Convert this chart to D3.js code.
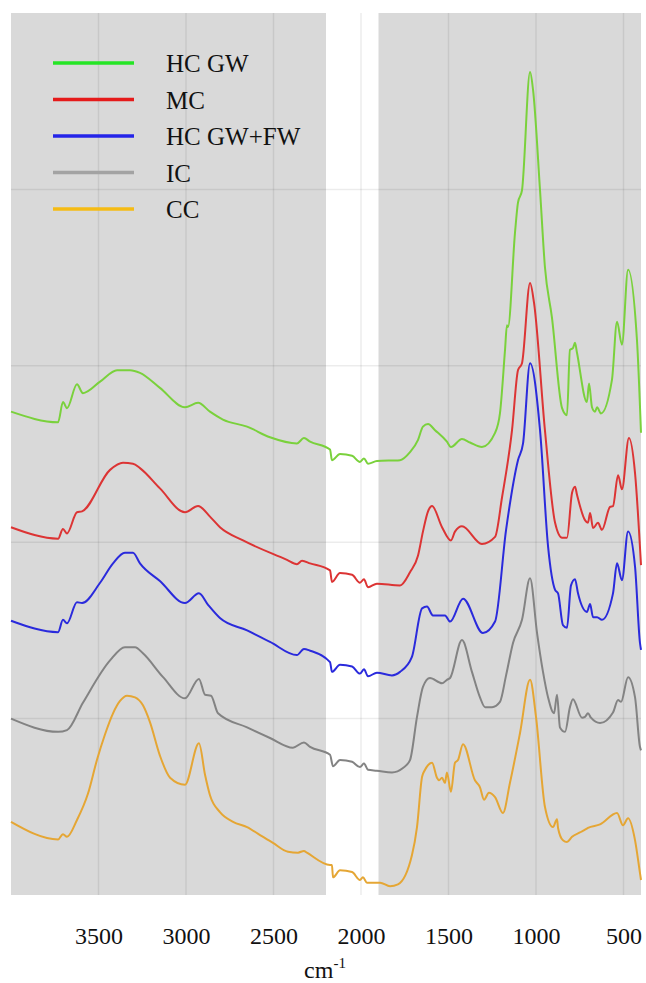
<!DOCTYPE html>
<html><head><meta charset="utf-8">
<script src="https://cdn.jsdelivr.net/npm/d3@7"></script>
<style>body{margin:0;background:#fff}svg{display:block}</style>
</head><body>
<script>
// ---- data (wavenumber cm-1, offset absorbance in arbitrary units) ----
const seriesNames = ["HC GW", "MC", "HC GW+FW", "IC", "CC"];
const lineColors = ["#7ad13c", "#dc3434", "#2a2adc", "#838383", "#e5a634"];
const legendColors = ["#25e525", "#e51a1a", "#2424e8", "#a3a3a3", "#f5bb14"];
const xTicks = [3500, 3000, 2500, 2000, 1500, 1000, 500];
const yGrid = [20, 40, 60, 80];
const gapBand = [2200, 1900];

const wnHCGW = [4000,3731,3703,3680,3623,3589,3491,3394,3320,3263,3149,3006,2931,2863,2789,2651,2520,2366,2326,2291,2177,2166,2120,2051,2006,1983,1960,1909,1777,1720,1674,1646,1617,1577,1509,1486,1423,1377,1309,1234,1206,1177,1166,1160,1120,1103,1080,1034,1017,977,949,909,851,823,806,789,777,766,709,697,680,663,651,629,566,537,509,474,423,400];
const valHCGW = [54.8,53.6,55.9,55.2,57.9,56.9,58.2,59.5,59.5,59.2,57.5,55.3,55.8,54.8,53.9,53.1,51.9,51.2,51.8,51.4,50.5,49.3,50.0,49.8,49.1,49.5,48.9,49.2,49.3,50.2,51.6,53.1,53.4,52.7,51.4,50.8,51.7,51.3,50.8,52.4,54.6,61.8,64.6,64.4,75.1,78.5,79.9,93.3,91.3,79.9,71.2,65.5,55.2,54.4,61.8,62.0,62.6,61.5,55.9,58.0,55.3,54.8,55.3,54.6,58.4,65.0,62.4,70.9,62.9,52.4];

const wnMC = [4000,3731,3703,3680,3623,3594,3434,3360,3303,3263,3149,3006,2931,2863,2806,2674,2423,2366,2337,2291,2177,2166,2120,2051,2006,1983,1960,1909,1777,1720,1674,1646,1617,1594,1537,1486,1463,1423,1309,1234,1194,1137,1103,1080,1034,1011,949,891,851,823,794,777,766,720,703,691,674,646,623,577,560,531,509,469,434,400];
const valMC = [41.7,40.4,41.5,41.0,43.4,43.5,48.2,49.0,48.9,48.4,46.1,43.4,44.1,42.9,41.7,40.2,38.0,37.5,37.9,37.6,36.8,35.5,36.5,36.3,35.4,35.8,34.9,35.3,35.1,36.6,38.5,41.2,43.5,44.1,41.7,40.2,41.2,41.8,39.8,40.6,45.1,52.7,59.5,60.3,69.4,67.1,52.7,42.2,40.5,40.5,45.6,46.3,45.4,42.5,42.2,43.3,41.6,42.2,41.4,44.0,44.1,47.6,46.0,51.8,47.8,37.4];

const wnHCGWFW = [4000,3731,3703,3680,3623,3594,3491,3417,3349,3303,3263,3149,3006,2926,2874,2806,2651,2520,2366,2326,2291,2177,2166,2120,2051,2006,1983,1960,1909,1823,1777,1709,1651,1623,1589,1520,1491,1417,1303,1234,1171,1103,1074,1034,977,931,891,874,846,823,800,777,760,709,691,674,651,623,560,537,509,474,434,406,400];
const valHCGWFW = [31.1,29.8,31.2,30.8,33.2,33.1,35.4,37.6,38.8,38.8,37.6,35.6,33.1,34.2,32.9,31.4,30.0,28.7,27.2,27.9,27.7,26.4,25.3,26.1,25.9,25.1,25.6,24.8,25.2,24.9,25.3,27.0,32.5,32.7,31.7,31.7,31.0,33.6,29.7,31.0,41.4,49.3,51.2,60.3,52.7,39.5,34.6,34.2,30.6,30.3,35.1,35.8,34.2,32.1,33.0,31.5,31.5,31.2,34.2,37.6,35.7,41.2,37.2,28.6,27.8];

const wnIC = [4000,3731,3680,3589,3434,3349,3291,3246,3131,3006,2926,2891,2857,2817,2651,2520,2389,2326,2291,2177,2160,2120,2051,2006,1983,1960,1909,1823,1760,1720,1680,1646,1606,1537,1509,1491,1423,1366,1320,1291,1251,1206,1171,1131,1080,1034,994,960,931,897,880,863,834,806,789,737,720,703,686,634,560,531,514,474,434,406,400];
const valIC = [20.0,18.5,18.7,21.8,26.6,28.1,28.1,27.4,24.7,22.3,24.5,22.7,22.6,20.6,19.0,17.8,16.7,17.3,16.8,15.9,14.6,15.3,15.1,14.5,14.9,14.2,14.1,13.9,14.4,15.3,20.2,23.6,24.6,24.0,24.4,24.6,28.9,25.3,22.4,21.3,21.3,21.9,24.9,28.6,31.2,35.9,29.7,25.3,22.4,20.6,22.7,19.0,18.5,21.3,22.2,20.1,20.2,20.6,20.1,19.5,20.7,22.1,21.9,24.7,22.4,16.8,16.4];

const wnCC = [4000,3731,3703,3680,3623,3560,3509,3463,3417,3377,3337,3291,3246,3206,3149,3091,3006,2926,2891,2863,2806,2731,2651,2577,2503,2417,2360,2326,2309,2177,2166,2160,2120,2051,2006,1989,1966,1891,1834,1789,1709,1680,1651,1634,1594,1566,1554,1537,1520,1509,1486,1463,1446,1417,1349,1320,1297,1269,1234,1189,1149,1091,1034,1000,949,903,880,874,846,823,794,749,720,703,634,537,503,474,434,406,400];
const valCC = [8.3,6.3,6.9,6.6,8.5,11.5,15.3,18.2,20.6,22.0,22.6,22.4,21.5,19.6,15.8,13.3,12.5,17.2,13.6,11.3,9.4,8.3,7.7,6.8,5.9,4.9,4.8,5.0,4.8,3.4,3.4,2.0,2.8,2.6,1.7,2.0,1.4,1.4,1.0,1.2,4.5,7.7,13.4,14.2,15.0,13.3,13.0,13.3,12.7,13.9,11.7,15.0,15.3,17.1,13.0,12.2,10.8,11.6,11.1,9.3,12.7,18.4,24.4,20.2,10.0,7.7,8.6,7.6,6.2,6.0,6.6,7.1,7.4,7.6,8.0,9.3,7.9,8.7,6.2,2.5,1.7];

const spectra = [
  {wn: wnHCGW, val: valHCGW},
  {wn: wnMC, val: valMC},
  {wn: wnHCGWFW, val: valHCGWFW},
  {wn: wnIC, val: valIC},
  {wn: wnCC, val: valCC}
];

// ---- drawing ----
const W = 646, H = 983;
const m = {left: 11, right: 5, top: 13, bottom: 88};
const pw = W - m.left - m.right, ph = H - m.top - m.bottom;

const svg = d3.select("body").append("svg").attr("width", W).attr("height", H);
const g = svg.append("g").attr("transform", `translate(${m.left},${m.top})`);

const x = d3.scaleLinear().domain([4000, 400]).range([0, pw]);
const y = d3.scaleLinear().domain([0, 100]).range([ph, 0]);

// gray panels on either side of the white gap
g.append("rect").attr("x", x(4000)).attr("y", 0)
  .attr("width", x(gapBand[0]) - x(4000)).attr("height", ph).attr("fill", "#d9d9d9");
g.append("rect").attr("x", x(gapBand[1])).attr("y", 0)
  .attr("width", x(400) - x(gapBand[1])).attr("height", ph).attr("fill", "#d9d9d9");

// gridlines
const grid = g.append("g").attr("stroke", "rgba(0,0,0,0.075)").attr("stroke-width", 1.5);
grid.selectAll("line.v").data(xTicks).join("line")
  .attr("x1", d => x(d)).attr("x2", d => x(d)).attr("y1", 0).attr("y2", ph);
grid.selectAll("line.h").data(yGrid).join("line")
  .attr("x1", 0).attr("x2", pw).attr("y1", d => y(d)).attr("y2", d => y(d));

// spectra
const line = d3.line().x(d => x(d[0])).y(d => y(d[1])).curve(d3.curveMonotoneX);
spectra.forEach((s, i) => {
  const pts = s.wn.map((w, k) => [w, s.val[k]]);
  g.append("path").datum(pts)
    .attr("fill", "none").attr("stroke", lineColors[i])
    .attr("stroke-width", 2).attr("stroke-linejoin", "round")
    .attr("d", line);
});

// x axis labels
const xAxis = d3.axisBottom(x).tickValues(xTicks).tickSize(0).tickPadding(0).tickFormat(d3.format("d"));
const ax = g.append("g").attr("transform", `translate(0,${ph})`).call(xAxis);
ax.select(".domain").remove();
ax.selectAll("text").attr("y", 0).attr("dy", 0)
  .attr("transform", "translate(0,49)")
  .attr("font-family", "'Liberation Serif','Times New Roman',serif")
  .attr("font-size", 24).attr("fill", "#111");

// axis title
const t = svg.append("text").attr("x", 325).attr("y", 978).attr("text-anchor", "middle")
  .attr("font-family", "'Liberation Serif','Times New Roman',serif")
  .attr("font-size", 24).attr("fill", "#111");
t.append("tspan").text("cm");
t.append("tspan").attr("font-size", 15).attr("dy", -10).text("-1");

// legend
const lg = svg.append("g");
seriesNames.forEach((n, i) => {
  const yy = 63 + i * 36.5;
  lg.append("line").attr("x1", 53).attr("x2", 134).attr("y1", yy).attr("y2", yy)
    .attr("stroke", legendColors[i]).attr("stroke-width", 3.5);
  lg.append("text").attr("x", 166).attr("y", yy + 9)
    .attr("font-family", "'Liberation Serif','Times New Roman',serif")
    .attr("font-size", 25).attr("fill", "#111").text(n);
});
</script>
</body></html>
